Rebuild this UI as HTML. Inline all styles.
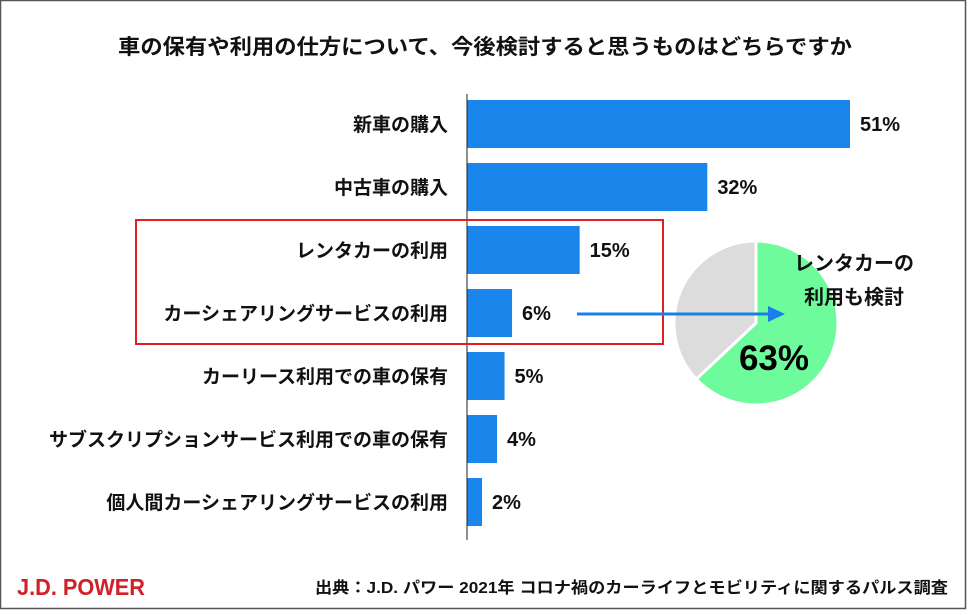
<!DOCTYPE html>
<html><head><meta charset="utf-8"><style>
body{margin:0;width:968px;height:610px;background:#fff;overflow:hidden;font-family:"Liberation Sans","Noto Sans CJK JP",sans-serif}
svg text{font-family:"Liberation Sans","Noto Sans CJK JP",sans-serif}
</style></head><body>
<svg width="968" height="610">
<rect x="0.5" y="0.5" width="965" height="608" fill="#fff" stroke="#555" stroke-width="1.5"/>
<text x="118" y="54" textLength="734" lengthAdjust="spacingAndGlyphs" font-size="21" font-weight="bold" fill="#111">車の保有や利用の仕方について、今後検討すると思うものはどちらですか</text>
<g id="bars"></g>
<line x1="467" y1="94" x2="467" y2="540" stroke="#222" stroke-width="1"/>
<rect x="136" y="220" width="527" height="124" fill="none" stroke="#e02020" stroke-width="2"/>
<g id="pie"></g>
<line x1="577" y1="314" x2="770" y2="314" stroke="#1a80e8" stroke-width="3"/>
<polygon points="768,306 785,314 768,322" fill="#1a80e8"/>
<text x="854" y="270" text-anchor="middle" font-size="20" font-weight="bold" fill="#111">レンタカーの</text>
<text x="854" y="304" text-anchor="middle" font-size="20" font-weight="bold" fill="#111">利用も検討</text>
<text x="774" y="370" text-anchor="middle" font-size="35" font-weight="bold" fill="#000">63%</text>
<text x="17" y="595" textLength="128" lengthAdjust="spacingAndGlyphs" font-size="23" font-weight="bold" fill="#d0202a">J.D. POWER</text>
<text x="315" y="593" textLength="633" lengthAdjust="spacingAndGlyphs" font-size="16" font-weight="bold" fill="#111">出典：J.D. パワー 2021年 コロナ禍のカーライフとモビリティに関するパルス調査</text>
</svg>
<script>
const categories=["新車の購入","中古車の購入","レンタカーの利用","カーシェアリングサービスの利用","カーリース利用での車の保有","サブスクリプションサービス利用での車の保有","個人間カーシェアリングサービスの利用"];
const values=[51,32,15,6,5,4,2];
const valueLabels=["51%","32%","15%","6%","5%","4%","2%"];
const pieShare=[63,37];
const NS="http://www.w3.org/2000/svg";
const x=v=>467+v*7.51;
const y=i=>124+i*63;
const g=document.getElementById('bars');
function mk(t,a){const e=document.createElementNS(NS,t);for(const k in a)e.setAttribute(k,a[k]);return e;}
categories.forEach((c,i)=>{
 const r=mk('rect',{x:467,y:y(i)-24,width:x(values[i])-467,height:48,fill:'#1a86ec'});
 
 
 g.appendChild(r);
 const l=mk('text',{x:448,y:y(i)+7,'text-anchor':'end','font-size':19,'font-weight':'bold',fill:'#111'});
 l.textContent=c;
 
 
 g.appendChild(l);
 const v=mk('text',{x:x(values[i])+10,y:y(i)+7,'font-size':20,'font-weight':'bold',fill:'#111'});
 v.textContent=valueLabels[i];
 
 
 g.appendChild(v);
});
const p=document.getElementById('pie');
const cx=756,cy=323,R=82;
let a0=0;const cols=['#6dfb9c','#dcdcdc'];
pieShare.forEach((s,i)=>{
 const a1=a0+s/100*2*Math.PI;
 const pt=a=>[cx+R*Math.sin(a),cy-R*Math.cos(a)];
 const [x0,y0]=pt(a0),[x1,y1]=pt(a1);
 const path=mk('path',{d:`M${cx},${cy} L${x0},${y0} A${R},${R} 0 ${a1-a0>Math.PI?1:0} 1 ${x1},${y1} Z`,fill:cols[i],stroke:'#fff','stroke-width':3});
 
 
 p.appendChild(path);
 a0=a1;
});
</script>
</body></html>
